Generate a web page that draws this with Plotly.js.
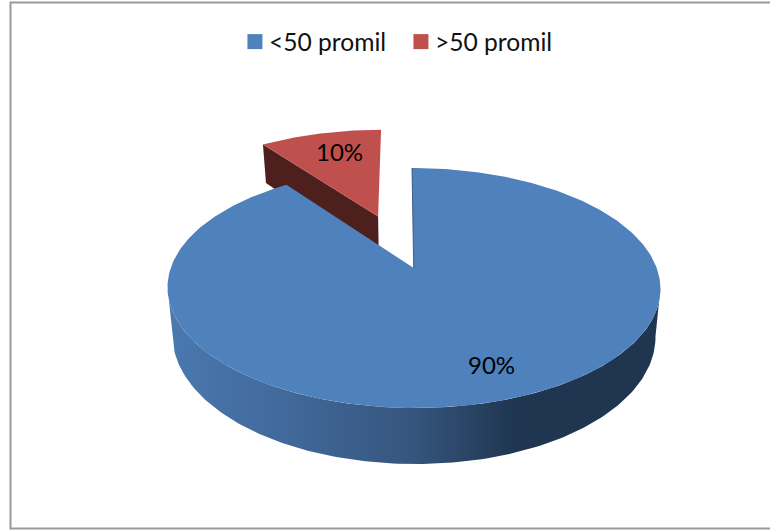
<!DOCTYPE html>
<html>
<head>
<meta charset="utf-8">
<script src="https://cdn.plot.ly/plotly-3.0.1.min.js"></script>
<style>html,body{margin:0;padding:0;background:#fff}#chart{width:770px;height:531px}</style>
</head>
<body>
<div id="chart"></div>
<script>
// Chart content
const categories = ['<50 promil', '>50 promil'];
const shares = [90, 10];
const topColors = ['#4F81BD', '#C0504D'];
const cutFaceColor = '#4D1F1D';
const wallStops = [
  [0, '#4A78AF'], [0.25, '#41689A'], [0.5, '#35557D'], [0.71, '#1F3550'], [1, '#1F3550']
];
const labelSpots = [[491, 364], [339, 151]];

// Perspective view of the pie disc: unit circle on the ground plane, seen from the front
const apexX = 413.7, apexY = 268, scaleX = 243, scaleY = 116.67, depthK = 1 / 6, shear = 1.7;
const thickness = 46.7, lowerShrink = 0.98, axisX = 414.5;
const pullOut = 0.5;

function project(u, v, lower) {
  const w = 1 + depthK * v;
  let x = apexX + scaleX * u / w - shear * v;
  let y = apexY - scaleY * v / w;
  if (lower) {
    x = axisX + (x - axisX) * lowerShrink;
    y += thickness / w;
  }
  return [x, y];
}

function rim(fromDeg, toDeg, lower, du, dv) {
  const pts = [];
  const n = Math.max(2, Math.ceil(Math.abs(toDeg - fromDeg)));
  for (let i = 0; i <= n; i++) {
    const t = (fromDeg + (toDeg - fromDeg) * i / n) * Math.PI / 180;
    pts.push(project(Math.sin(t) + du, Math.cos(t) + dv, lower));
  }
  return pts;
}

function polygon(pts, extra) {
  return Object.assign({
    x: pts.map(p => p[0]), y: pts.map(p => p[1]),
    type: 'scatter', mode: 'lines', fill: 'toself',
    line: {width: 0}, showlegend: false, hoverinfo: 'skip'
  }, extra);
}

const total = shares.reduce((a, b) => a + b, 0);
const blueSweep = 360 * shares[0] / total;
const redMid = (blueSweep + 360) / 2 * Math.PI / 180;
const du = pullOut * Math.sin(redMid), dv = pullOut * Math.cos(redMid);

const redApexTop = project(du, dv, false);
const redApexLow = project(du, dv, true);
const redEdge = blueSweep * Math.PI / 180;
const redCornerTop = project(Math.sin(redEdge) + du, Math.cos(redEdge) + dv, false);
const redCornerLow = project(Math.sin(redEdge) + du, Math.cos(redEdge) + dv, true);

// The wall's silhouette runs between the widest points of the two rims
const widest = Math.acos(-depthK) * 180 / Math.PI;

const apexTop = project(0, 0, false);
const traces = [
  // pulled-out slice: cut face, then its top
  polygon([redApexTop, redCornerTop, redCornerLow, redApexLow], {fillcolor: cutFaceColor}),
  polygon([redApexTop].concat(rim(blueSweep, 360, false, du, dv)), {fillcolor: topColors[1]}),
  // large slice: curved wall, then its top
  polygon(rim(widest, 360 - widest, false, 0, 0).concat(rim(360 - widest, widest, true, 0, 0)), {
    fillcolor: topColors[0],
    fillgradient: {type: 'horizontal', colorscale: wallStops}
  }),
  polygon([apexTop].concat(rim(0, blueSweep, false, 0, 0)), {fillcolor: topColors[0]}),
  // thin dark sliver of the cut face along the gap
  {
    x: [apexTop[0], project(0, 1, false)[0]], y: [apexTop[1], project(0, 1, false)[1]],
    type: 'scatter', mode: 'lines', line: {color: '#2A4668', width: 0.8},
    showlegend: false, hoverinfo: 'skip'
  }
];

// Legend entries
categories.forEach((name, i) => traces.push({
  x: [null], y: [null], type: 'scatter', mode: 'markers', name: name,
  marker: {symbol: 'square', size: 15, color: topColors[i]}
}));

const layout = {
  width: 770, height: 531,
  margin: {l: 0, r: 0, t: 0, b: 0},
  paper_bgcolor: '#fff', plot_bgcolor: '#fff',
  xaxis: {range: [0, 770], visible: false, fixedrange: true},
  yaxis: {range: [531, 0], visible: false, fixedrange: true},
  font: {family: 'Lato, "Open Sans", sans-serif', color: '#000', size: 24},
  showlegend: true,
  legend: {
    orientation: 'h', x: 0.522, xanchor: 'center', y: 0.964, yanchor: 'top',
    font: {size: 24.6, color: '#111'}, bgcolor: 'rgba(0,0,0,0)',
    entrywidth: 128, entrywidthmode: 'pixels', indentation: -7,
    itemclick: false, itemdoubleclick: false
  },
  shapes: [{
    type: 'rect', xref: 'x', yref: 'y', x0: 10.5, x1: 780, y0: 2.5, y1: 528.5,
    line: {color: '#9A9A9A', width: 2}
  }],
  annotations: shares.map((s, i) => ({
    x: labelSpots[i][0], y: labelSpots[i][1], xref: 'x', yref: 'y',
    text: s + '%', showarrow: false, font: {size: 24, color: '#000'},
    xanchor: 'center', yanchor: 'middle'
  }))
};

Plotly.newPlot('chart', traces, layout, {displayModeBar: false, staticPlot: true}).then(() => {
  // Tuck the legend swatches closer to their labels
  document.querySelectorAll('.legend .legendpoints').forEach(g => {
    g.setAttribute('transform', 'translate(6,0)');
  });
});
</script>
</body>
</html>
